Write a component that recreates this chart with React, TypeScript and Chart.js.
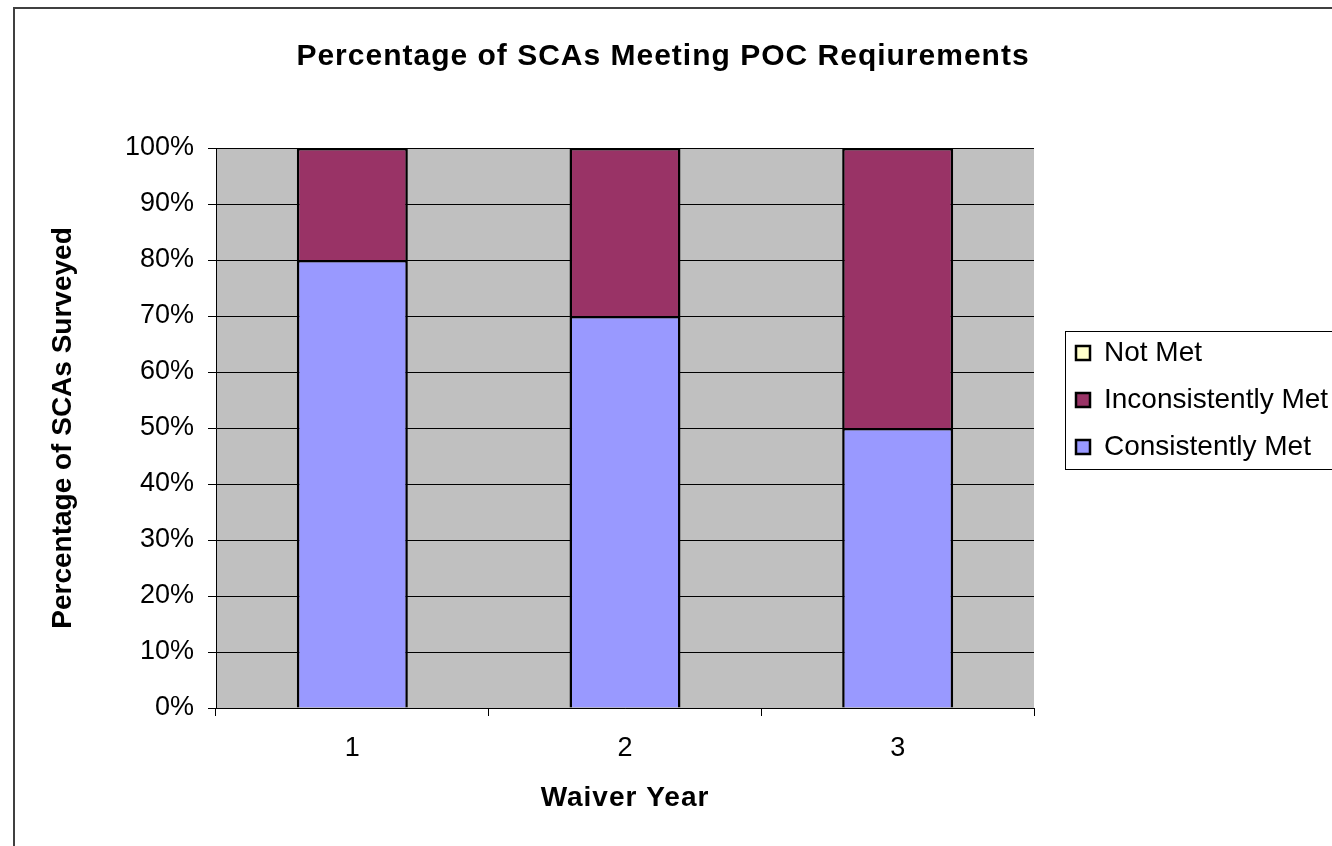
import React, { useEffect, useRef } from "react";
import { Chart, registerables } from "chart.js";

Chart.register(...registerables);

// ---- data ----
const categories = ["1", "2", "3"];
const consistentlyMet = [80, 70, 50];
const inconsistentlyMet = [20, 30, 50];
const notMet = [0, 0, 0];
const seriesLabels = ["Consistently Met", "Inconsistently Met", "Not Met"];
const seriesColors = ["#9999FF", "#993366", "#FFFFCC"];
const yTickStep = 10;
const yMax = 100;
const chartTitle = "Percentage of SCAs Meeting POC Reqiurements";
const xTitle = "Waiver Year";
const yTitle = "Percentage of SCAs Surveyed";

const FONT = "Arial, 'Liberation Sans', sans-serif";
const W = 1332;
const H = 846;

function withSpacing(obj: any, key: string, spacing: string) {
  if (!obj || obj["__ls_" + key]) return;
  const orig = obj[key].bind(obj);
  obj[key] = function (...args: any[]) {
    const ctx = (this as any).ctx;
    const prev = ctx.letterSpacing;
    ctx.letterSpacing = spacing;
    try {
      return orig(...args);
    } finally {
      ctx.letterSpacing = prev || "0px";
    }
  };
  obj["__ls_" + key] = true;
}

const chromePlugin = {
  id: "chrome",
  beforeUpdate(chart: any) {
    const lg = chart.legend;
    if (lg && !lg.__patched) {
      const orig = lg.fit.bind(lg);
      lg.fit = function () {
        orig();
        this.width = 292;
      };
      lg.__patched = true;
    }
  },
  afterLayout(chart: any) {
    const lg = chart.legend;
    if (lg) {
      const left = chart.chartArea.right + 23;
      lg.left = left;
      lg.right = left + 292;
      lg.top = 320;
      lg.bottom = H;
    }
  },
  beforeDraw(chart: any) {
    withSpacing(chart.titleBlock, "draw", "1px");
    if (chart.scales && chart.scales.x) withSpacing(chart.scales.x, "drawTitle", "1px");
    const { ctx, chartArea: a } = chart;
    ctx.save();
    ctx.fillStyle = "#ffffff";
    ctx.fillRect(0, 0, chart.width, chart.height);
    ctx.fillStyle = "#C0C0C0";
    ctx.fillRect(a.left, a.top, a.right - a.left, a.bottom - a.top);
    // outer chart frame
    ctx.strokeStyle = "#404040";
    ctx.lineWidth = 2;
    ctx.beginPath();
    ctx.moveTo(14, chart.height + 4);
    ctx.lineTo(14, 8);
    ctx.lineTo(chart.width + 4, 8);
    ctx.stroke();
    // legend frame
    ctx.strokeStyle = "#000000";
    ctx.lineWidth = 1;
    ctx.strokeRect(a.right + 31.5, 331.5, 400, 138);
    ctx.restore();
  },
};

export default function App() {
  const ref = useRef<HTMLCanvasElement>(null);

  useEffect(() => {
    if (!ref.current) return;
    const mk = (label: string, data: number[], color: string) => ({
      label,
      data,
      backgroundColor: color,
      borderColor: "#000000",
      borderWidth: 2.5,
      barPercentage: 0.407,
      categoryPercentage: 1,
    });
    const chart = new Chart(ref.current, {
      type: "bar",
      data: {
        labels: categories,
        datasets: [
          mk(seriesLabels[0], consistentlyMet, seriesColors[0]),
          mk(seriesLabels[1], inconsistentlyMet, seriesColors[1]),
          mk(seriesLabels[2], notMet, seriesColors[2]),
        ],
      },
      options: {
        responsive: false,
        animation: false,
        devicePixelRatio: 1,
        layout: { padding: { left: 0, right: 6, top: 0, bottom: 0 } },
        plugins: {
          title: {
            display: true,
            text: chartTitle,
            color: "#000",
            font: { family: FONT, size: 30, weight: "bold" },
            padding: { top: 39, bottom: 73 },
          },
          legend: {
            display: true,
            position: "right",
            align: "start",
            reverse: true,
            labels: {
              color: "#000",
              font: { family: FONT, size: 28 },
              boxWidth: 14,
              boxHeight: 14,
              padding: 19,
            },
          },
          tooltip: { enabled: false },
        },
        scales: {
          x: {
            stacked: true,
            grid: {
              display: true,
              drawOnChartArea: false,
              drawTicks: true,
              tickLength: 8,
              color: "#000",
              offset: true,
            },
            border: { display: true, color: "#000", width: 1 },
            ticks: {
              color: "#000",
              font: { family: FONT, size: 27 },
              padding: 16,
              maxRotation: 0,
            },
            title: {
              display: true,
              text: xTitle,
              color: "#000",
              font: { family: FONT, size: 28, weight: "bold" },
              padding: { top: 0, bottom: 31 },
            },
            afterFit: (s: any) => {
              s.height = 138;
            },
          },
          y: {
            stacked: true,
            min: 0,
            max: yMax,
            grid: {
              display: true,
              drawOnChartArea: true,
              drawTicks: true,
              tickLength: 8,
              color: "#000",
              lineWidth: 1,
            },
            border: { display: true, color: "#000", width: 1 },
            ticks: {
              stepSize: yTickStep,
              color: "#000",
              font: { family: FONT, size: 27 },
              padding: 14,
              callback: (v: any) => v + "%",
            },
            title: {
              display: true,
              text: yTitle,
              color: "#000",
              font: { family: FONT, size: 28, weight: "bold" },
              padding: { top: 46, bottom: 0 },
            },
            afterFit: (s: any) => {
              s.width = 216;
            },
          },
        },
      },
      plugins: [chromePlugin],
    });
    return () => chart.destroy();
  }, []);

  return (
    <div style={{ position: "fixed", left: 0, top: 0, width: W, height: H, overflow: "hidden", background: "#fff" }}>
      <canvas ref={ref} width={W} height={H} style={{ display: "block", width: W, height: H }} />
    </div>
  );
}
